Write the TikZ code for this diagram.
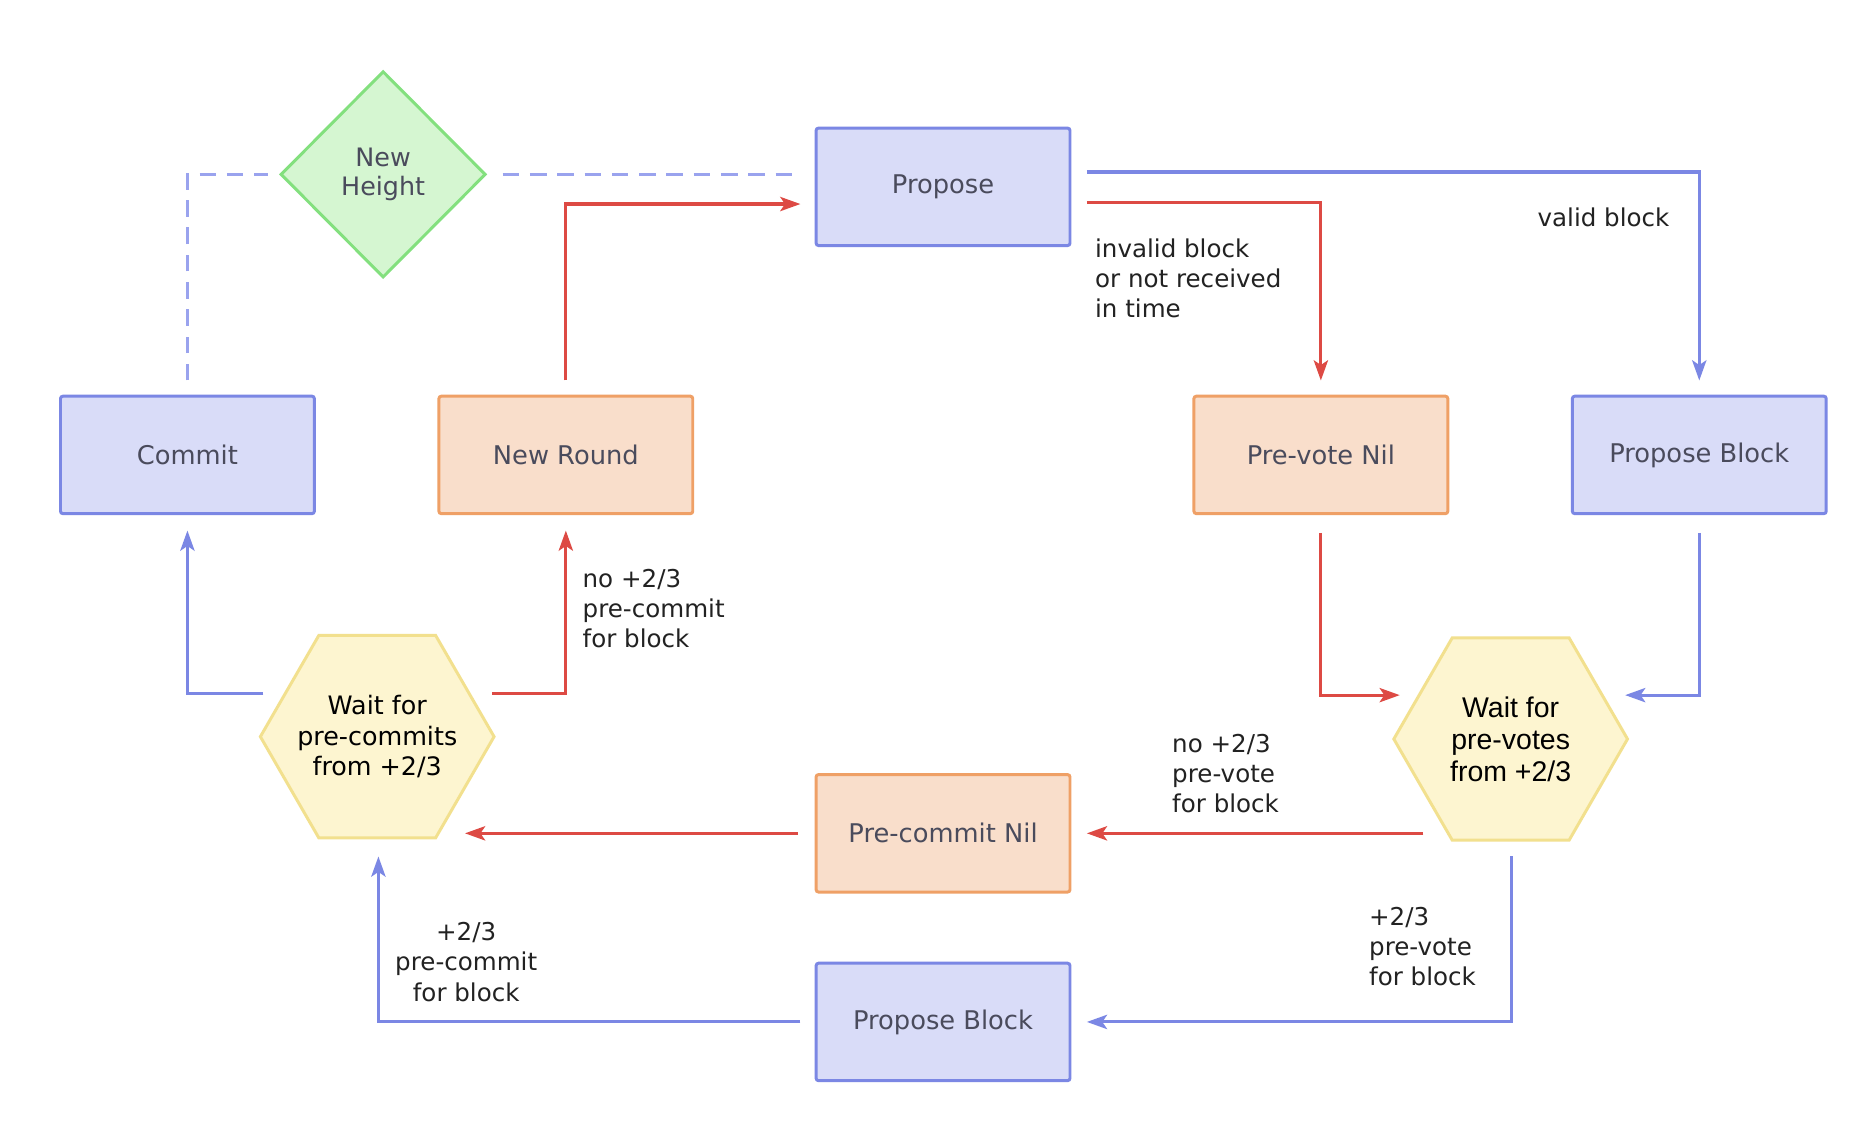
\documentclass[tikz,border=0pt]{standalone}
\usepackage{fontspec}
\setmainfont{DejaVu Sans}
\newfontfamily\helv{Liberation Sans}
\usetikzlibrary{shapes.geometric,arrows.meta,calc}
\definecolor{bluefill}{HTML}{D9DCF8}
\definecolor{blueline}{HTML}{7B87E4}
\definecolor{peachfill}{HTML}{F9DECB}
\definecolor{peachline}{HTML}{EFA066}
\definecolor{greenfill}{HTML}{D5F6D1}
\definecolor{greenline}{HTML}{83E07E}
\definecolor{yelfill}{HTML}{FDF5D0}
\definecolor{yelline}{HTML}{F2E08E}
\definecolor{redline}{HTML}{DD4A44}
\definecolor{dashblue}{HTML}{9AA3EE}
\definecolor{boxtext}{HTML}{4A4B5C}
\definecolor{labtext}{HTML}{222222}
\begin{document}
\begin{tikzpicture}[x=1pt,y=-1pt,
  every node/.style={font=\fontsize{20.7}{25.5}\selectfont},
  box/.style={rectangle, rounded corners=2pt, minimum width=214pt, minimum height=99pt, line width=2.5pt, text=boxtext, inner sep=0, font=\fontsize{21.7}{25.5}\selectfont},
  bluebox/.style={box, draw=blueline, fill=bluefill},
  peachbox/.style={box, draw=peachline, fill=peachfill},
  hexa/.style={regular polygon, regular polygon sides=6, minimum size=197pt, inner sep=-30pt, draw=yelline, fill=yelfill, line width=2.5pt, align=center, text=black, font=\fontsize{21.4}{25.5}\selectfont},
  conn/.style={line width=2.6pt, arrows={-Stealth[length=17pt,width=12pt,inset=4pt]}},
  bluearr/.style={conn, draw=blueline},
  redarr/.style={conn, draw=redline},
  dashconn/.style={draw=dashblue, line width=2.5pt, dash pattern=on 14pt off 9pt},
  lab/.style={text=labtext, align=left, inner sep=0, anchor=west}
]
\useasboundingbox (0,0) rectangle (1568,953);
\fill[white] (0,0) rectangle (1568,953);

% nodes
\node[bluebox] (propose) at (795,157.5) {Propose};
\node[bluebox] (commit) at (158,383.5) {Commit};
\node[peachbox] (newround) at (477,383.5) {New Round};
\node[peachbox] (pvn) at (1113.5,383.5) {Pre-vote Nil};
\node[bluebox] (pbr) at (1432.5,383.5) {Propose Block};
\node[peachbox] (pcn) at (795,702.5) {Pre-commit Nil};
\node[bluebox] (pbb) at (795,861.5) {Propose Block};
\node[diamond, minimum width=173pt, minimum height=174pt, inner sep=0, draw=greenline, fill=greenfill, line width=2.5pt, text=boxtext, align=center, font=\fontsize{21.4}{25}\selectfont] (nh) at (323,147) {New\\Height};
\node[hexa] (wpc) at (318,621) {Wait for\\pre-commits\\from +2/3};
\node[hexa, font=\helv\fontsize{24}{27}\selectfont] (wpv) at (1273.5,623) {Wait for\\pre-votes\\from +2/3};

% helper coordinates on the hexagon sides
\coordinate (wpvL) at ($(wpv.center)+(-73.5,0)$);
\coordinate (wpcR) at ($(wpc.center)+(74,0)$);

% dashed connectors
\draw[dashconn, shorten <=12pt, shorten >=9pt] (commit.north) |- (nh.west);
\draw[dashconn, shorten <=13pt, shorten >=12pt] (nh.east) -- (nh.east -| propose.west);

% connectors
\draw[bluearr, shorten <=13pt, shorten >=12pt] ($(propose.east)+(0,-12.5)$) -| (pbr.north);
\draw[redarr, shorten <=13pt, shorten >=12pt] ($(propose.east)+(0,13.5)$) -| (pvn.north);
\draw[redarr, shorten <=12pt, shorten >=12pt] (newround.north) |- ($(propose.west)+(0,14.5)$);
\draw[bluearr, shorten >=13pt] ($(wpc.center)+(-96,-36)$) -| (commit.south);
\draw[redarr, shorten >=13pt] ($(wpc.center)+(97,-36)$) -| (newround.south);
\draw[redarr, shorten <=15pt] (pvn.south) |- ($(wpv.center)+(-93.5,-37)$);
\draw[bluearr, shorten <=15pt] (pbr.south) |- ($(wpv.center)+(96.5,-37)$);
\draw[redarr, shorten >=13pt] (wpvL |- pcn.east) -- (pcn.east);
\draw[redarr, shorten <=14pt] (pcn.west) -- (wpcR |- pcn.west);
\draw[bluearr, shorten >=13pt] ($(wpv.center)+(0.5,99)$) |- (pbb.east);
\draw[bluearr, shorten <=12pt] (pbb.west) -| ($(wpc.center)+(1,101)$);

% labels
\node[lab] (l1) at (1296,183) {valid block};
\node[lab] (l2) at (923,234.5) {invalid block\\or not received\\in time};
\node[lab] (l3) at (491,513) {no +2/3\\pre-commit\\for block};
\node[lab] (l4) at (988,652) {no +2/3\\pre-vote\\for block};
\node[lab] (l5) at (1154,798) {+2/3\\pre-vote\\for block};
\node[lab, align=center, anchor=center] (l6) at (393,811) {+2/3\\pre-commit\\for block};
\end{tikzpicture}
\end{document}
